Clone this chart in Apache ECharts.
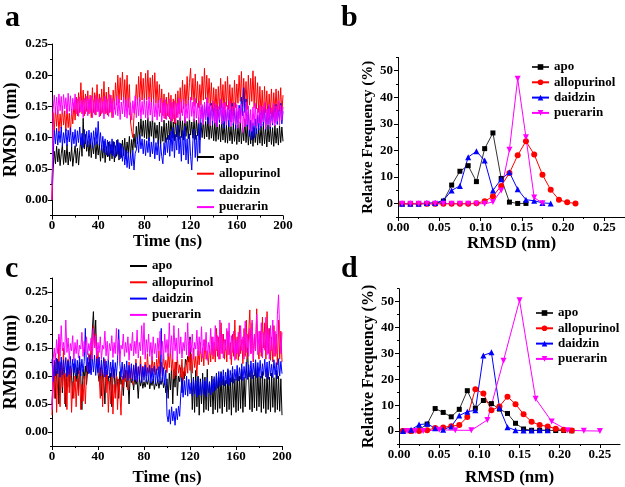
<!DOCTYPE html>
<html><head><meta charset="utf-8">
<script src="https://cdn.jsdelivr.net/npm/echarts@6/dist/echarts.min.js"></script>
<style>html,body{margin:0;padding:0;background:#fff}#c{width:625px;height:487px}</style>
</head><body><div id="c"></div><script>
// ---------- DATA ----------
const NAMES = ['apo', 'allopurinol', 'daidzin', 'puerarin'];
const T_STEP_NS = 1; // one stored frame per ns, t = 0..200

// Panel a: RMSD (nm) vs time
const A_APO = [0.000,
0.050,0.078,0.058,0.086,0.061,0.082,0.055,0.074,0.088,0.057,
0.080,0.060,0.089,0.056,0.077,0.062,0.085,0.054,0.072,0.087,
0.059,0.083,0.056,0.079,0.098,0.070,0.131,0.082,0.105,0.078,
0.095,0.070,0.098,0.068,0.092,0.074,0.100,0.066,0.094,0.072,
0.090,0.062,0.088,0.067,0.095,0.060,0.086,0.069,0.093,0.063,
0.089,0.066,0.094,0.061,0.087,0.070,0.097,0.064,0.091,0.068,
0.096,0.071,0.099,0.066,0.093,0.075,0.102,0.069,0.097,0.080,
0.106,0.084,0.118,0.090,0.125,0.098,0.130,0.102,0.127,0.100,
0.128,0.098,0.132,0.095,0.126,0.102,0.133,0.093,0.124,0.099,
0.120,0.090,0.125,0.085,0.118,0.094,0.128,0.092,0.123,0.097,
0.127,0.096,0.131,0.099,0.125,0.095,0.130,0.101,0.128,0.097,
0.132,0.100,0.127,0.096,0.133,0.102,0.126,0.098,0.131,0.104,
0.125,0.099,0.130,0.097,0.128,0.103,0.132,0.096,0.124,0.100,
0.129,0.098,0.126,0.101,0.131,0.097,0.127,0.099,0.122,0.095,
0.125,0.094,0.128,0.097,0.121,0.093,0.126,0.096,0.123,0.092,
0.120,0.091,0.124,0.095,0.118,0.090,0.122,0.094,0.119,0.089,
0.121,0.093,0.125,0.090,0.118,0.095,0.130,0.092,0.120,0.088,
0.117,0.090,0.121,0.086,0.116,0.092,0.120,0.088,0.115,0.091,
0.119,0.087,0.122,0.090,0.117,0.085,0.121,0.093,0.118,0.089,
0.116,0.086,0.120,0.091,0.115,0.088,0.119,0.092,0.117,0.094];
const A_ALLO = [0.000,
0.140,0.112,0.148,0.118,0.145,0.108,0.138,0.115,0.150,0.120,
0.143,0.110,0.147,0.116,0.139,0.105,0.146,0.122,0.155,0.128,
0.165,0.135,0.172,0.140,0.188,0.138,0.176,0.135,0.170,0.142,
0.175,0.138,0.168,0.132,0.180,0.140,0.172,0.136,0.185,0.142,
0.170,0.135,0.178,0.140,0.190,0.138,0.173,0.136,0.181,0.140,
0.168,0.132,0.176,0.145,0.188,0.152,0.200,0.155,0.196,0.160,
0.205,0.156,0.193,0.150,0.200,0.148,0.185,0.125,0.110,0.100,
0.135,0.150,0.185,0.152,0.198,0.158,0.205,0.160,0.195,0.155,
0.203,0.160,0.208,0.162,0.196,0.152,0.200,0.158,0.204,0.155,
0.190,0.148,0.185,0.140,0.178,0.135,0.170,0.130,0.165,0.135,
0.172,0.130,0.168,0.126,0.162,0.122,0.170,0.132,0.175,0.138,
0.180,0.140,0.192,0.146,0.185,0.150,0.198,0.152,0.188,0.211,
0.160,0.195,0.150,0.202,0.155,0.190,0.148,0.185,0.152,0.198,
0.160,0.211,0.162,0.200,0.155,0.195,0.150,0.188,0.142,0.180,
0.140,0.178,0.135,0.182,0.145,0.195,0.148,0.185,0.138,0.190,
0.150,0.198,0.145,0.185,0.140,0.180,0.135,0.192,0.148,0.186,
0.155,0.200,0.158,0.206,0.150,0.195,0.156,0.190,0.145,0.200,
0.152,0.195,0.158,0.207,0.148,0.198,0.146,0.188,0.140,0.182,
0.135,0.176,0.130,0.182,0.140,0.175,0.128,0.170,0.138,0.178,
0.132,0.172,0.140,0.178,0.135,0.175,0.142,0.180,0.138,0.168];
const A_DAID = [0.025,
0.070,0.112,0.090,0.115,0.088,0.110,0.092,0.117,0.086,0.108,
0.091,0.114,0.087,0.112,0.093,0.116,0.085,0.109,0.090,0.113,
0.086,0.111,0.092,0.117,0.088,0.107,0.084,0.113,0.090,0.110,
0.085,0.112,0.089,0.108,0.083,0.111,0.088,0.116,0.090,0.126,
0.088,0.108,0.080,0.102,0.076,0.098,0.072,0.096,0.070,0.094,
0.074,0.098,0.071,0.093,0.068,0.096,0.073,0.092,0.066,0.090,
0.062,0.085,0.056,0.080,0.052,0.077,0.050,0.074,0.055,0.080,
0.048,0.075,0.080,0.100,0.076,0.104,0.082,0.098,0.074,0.097,
0.071,0.095,0.076,0.100,0.069,0.093,0.074,0.098,0.066,0.092,
0.072,0.096,0.063,0.090,0.070,0.058,0.092,0.072,0.100,0.076,
0.104,0.070,0.110,0.078,0.116,0.068,0.105,0.080,0.120,0.074,
0.102,0.062,0.112,0.072,0.118,0.064,0.098,0.058,0.106,0.070,
0.048,0.095,0.114,0.068,0.104,0.062,0.122,0.075,0.138,0.150,
0.125,0.152,0.128,0.156,0.122,0.150,0.127,0.155,0.120,0.148,
0.126,0.152,0.118,0.146,0.124,0.160,0.121,0.149,0.115,0.144,
0.121,0.150,0.117,0.145,0.125,0.155,0.120,0.147,0.114,0.142,
0.123,0.152,0.130,0.165,0.135,0.180,0.140,0.162,0.118,0.145,
0.102,0.128,0.096,0.124,0.100,0.130,0.106,0.136,0.112,0.140,
0.116,0.144,0.119,0.148,0.112,0.140,0.122,0.150,0.114,0.143,
0.120,0.147,0.124,0.153,0.121,0.145,0.127,0.155,0.122,0.142];
const A_PUER = [0.000,
0.145,0.168,0.140,0.165,0.137,0.170,0.143,0.166,0.139,0.169,
0.146,0.164,0.138,0.171,0.142,0.167,0.136,0.163,0.144,0.170,
0.138,0.162,0.134,0.165,0.141,0.160,0.132,0.163,0.138,0.166,
0.135,0.162,0.140,0.167,0.132,0.160,0.137,0.168,0.141,0.162,
0.133,0.164,0.138,0.158,0.130,0.166,0.139,0.161,0.134,0.169,
0.141,0.163,0.132,0.159,0.137,0.167,0.135,0.162,0.129,0.157,
0.138,0.165,0.133,0.160,0.131,0.164,0.136,0.156,0.128,0.159,
0.139,0.167,0.132,0.161,0.135,0.165,0.130,0.158,0.137,0.163,
0.132,0.159,0.129,0.165,0.136,0.157,0.127,0.162,0.133,0.155,
0.128,0.160,0.134,0.163,0.125,0.156,0.131,0.161,0.129,0.154,
0.133,0.162,0.126,0.157,0.130,0.159,0.124,0.155,0.132,0.163,
0.127,0.157,0.135,0.162,0.123,0.154,0.131,0.160,0.128,0.165,
0.134,0.157,0.126,0.163,0.131,0.155,0.123,0.159,0.130,0.153,
0.121,0.157,0.128,0.164,0.133,0.155,0.119,0.152,0.127,0.159,
0.123,0.154,0.117,0.150,0.129,0.162,0.122,0.155,0.126,0.157,
0.120,0.152,0.128,0.159,0.118,0.150,0.124,0.156,0.121,0.153,
0.115,0.147,0.123,0.154,0.108,0.142,0.117,0.157,0.121,0.151,
0.113,0.145,0.110,0.149,0.119,0.155,0.115,0.147,0.123,0.152,
0.118,0.150,0.125,0.157,0.114,0.146,0.121,0.153,0.117,0.148,
0.123,0.155,0.119,0.151,0.126,0.159,0.120,0.152,0.128,0.149];

// Panel c: RMSD (nm) vs time
const C_APO = [0.050,
0.095,0.120,0.060,0.110,0.130,0.050,0.105,0.125,0.070,0.115,
0.095,0.045,0.110,0.128,0.080,0.118,0.100,0.060,0.122,0.105,
0.090,0.115,0.070,0.125,0.100,0.040,0.112,0.095,0.118,0.085,
0.110,0.125,0.105,0.135,0.180,0.215,0.160,0.200,0.120,0.105,
0.090,0.115,0.065,0.108,0.095,0.050,0.110,0.088,0.100,0.075,
0.105,0.045,0.098,0.112,0.070,0.102,0.090,0.060,0.108,0.085,
0.095,0.065,0.100,0.110,0.080,0.092,0.050,0.102,0.088,0.097,
0.075,0.100,0.085,0.092,0.060,0.098,0.082,0.095,0.078,0.090,
0.080,0.093,0.085,0.098,0.077,0.090,0.083,0.095,0.076,0.088,
0.082,0.094,0.078,0.091,0.085,0.098,0.079,0.090,0.070,0.095,
0.060,0.105,0.075,0.118,0.050,0.110,0.080,0.125,0.065,0.100,
0.090,0.115,0.070,0.108,0.095,0.130,0.120,0.135,0.125,0.170,
0.105,0.040,0.098,0.035,0.110,0.045,0.100,0.030,0.095,0.050,
0.105,0.035,0.098,0.040,0.112,0.038,0.090,0.045,0.100,0.032,
0.095,0.040,0.105,0.035,0.098,0.042,0.108,0.033,0.100,0.045,
0.092,0.036,0.110,0.040,0.097,0.030,0.105,0.044,0.095,0.035,
0.108,0.038,0.100,0.042,0.112,0.035,0.098,0.045,0.105,0.150,
0.097,0.040,0.110,0.036,0.102,0.043,0.125,0.038,0.115,0.045,
0.100,0.035,0.108,0.042,0.095,0.033,0.112,0.040,0.098,0.036,
0.105,0.044,0.097,0.035,0.110,0.040,0.100,0.037,0.095,0.030];
const C_ALLO = [0.030,
0.110,0.060,0.140,0.035,0.095,0.170,0.045,0.120,0.080,0.150,
0.050,0.105,0.040,0.130,0.070,0.115,0.035,0.090,0.060,0.100,
0.045,0.095,0.065,0.110,0.040,0.085,0.055,0.100,0.050,0.105,
0.120,0.140,0.110,0.160,0.130,0.190,0.150,0.175,0.120,0.145,
0.100,0.060,0.120,0.045,0.095,0.130,0.070,0.110,0.035,0.090,
0.050,0.115,0.032,0.085,0.060,0.105,0.040,0.095,0.070,0.030,
0.100,0.080,0.120,0.090,0.110,0.075,0.125,0.095,0.115,0.085,
0.120,0.095,0.130,0.090,0.115,0.100,0.135,0.092,0.118,0.098,
0.125,0.100,0.140,0.105,0.120,0.098,0.135,0.108,0.125,0.102,
0.130,0.110,0.145,0.105,0.125,0.100,0.138,0.112,0.128,0.106,
0.140,0.115,0.150,0.110,0.130,0.095,0.125,0.100,0.135,0.105,
0.120,0.098,0.130,0.092,0.115,0.100,0.128,0.105,0.160,0.110,
0.140,0.105,0.150,0.115,0.135,0.100,0.145,0.120,0.160,0.125,
0.150,0.118,0.165,0.130,0.145,0.120,0.155,0.125,0.170,0.130,
0.160,0.125,0.185,0.135,0.170,0.130,0.195,0.140,0.175,0.130,
0.165,0.125,0.180,0.138,0.160,0.120,0.175,0.135,0.200,0.130,
0.170,0.128,0.190,0.140,0.165,0.122,0.185,0.135,0.200,0.130,
0.175,0.218,0.140,0.195,0.125,0.170,0.145,0.220,0.150,0.130,
0.180,0.135,0.205,0.150,0.195,0.130,0.215,0.140,0.185,0.128,
0.170,0.125,0.190,0.135,0.175,0.120,0.200,0.130,0.180,0.125];
const C_DAID = [0.130,
0.090,0.128,0.100,0.132,0.104,0.126,0.098,0.134,0.102,0.129,
0.105,0.133,0.099,0.127,0.103,0.135,0.100,0.130,0.106,0.131,
0.101,0.128,0.104,0.136,0.100,0.130,0.107,0.126,0.185,0.108,
0.133,0.104,0.138,0.102,0.134,0.107,0.137,0.101,0.131,0.106,
0.134,0.100,0.129,0.103,0.133,0.098,0.127,0.102,0.131,0.097,
0.125,0.099,0.129,0.096,0.124,0.101,0.128,0.183,0.122,0.098,
0.125,0.094,0.121,0.097,0.127,0.092,0.119,0.096,0.122,0.091,
0.119,0.093,0.123,0.090,0.117,0.094,0.121,0.088,0.116,0.092,
0.120,0.089,0.115,0.093,0.119,0.087,0.114,0.091,0.118,0.086,
0.113,0.090,0.117,0.085,0.185,0.089,0.115,0.084,0.111,0.030,
0.018,0.040,0.014,0.045,0.020,0.037,0.012,0.042,0.022,0.046,
0.028,0.068,0.096,0.062,0.092,0.066,0.100,0.064,0.094,0.068,
0.088,0.064,0.096,0.068,0.092,0.062,0.098,0.066,0.090,0.065,
0.095,0.067,0.091,0.063,0.097,0.070,0.089,0.066,0.094,0.071,
0.099,0.074,0.103,0.078,0.108,0.081,0.105,0.084,0.111,0.082,
0.107,0.086,0.113,0.083,0.110,0.089,0.117,0.087,0.112,0.092,
0.119,0.091,0.115,0.094,0.122,0.092,0.117,0.096,0.125,0.094,
0.120,0.098,0.127,0.095,0.123,0.100,0.129,0.097,0.124,0.099,
0.128,0.096,0.122,0.101,0.130,0.098,0.125,0.094,0.127,0.100,
0.121,0.097,0.129,0.102,0.124,0.095,0.131,0.100,0.126,0.104];
const C_PUER = [0.040,
0.130,0.150,0.125,0.165,0.140,0.175,0.135,0.190,0.145,0.160,
0.138,0.200,0.142,0.168,0.130,0.158,0.145,0.172,0.128,0.160,
0.140,0.165,0.132,0.155,0.148,0.178,0.135,0.162,0.142,0.170,
0.138,0.158,0.145,0.168,0.130,0.185,0.150,0.172,0.135,0.160,
0.142,0.170,0.130,0.155,0.148,0.180,0.136,0.162,0.128,0.158,
0.145,0.172,0.133,0.160,0.140,0.185,0.138,0.165,0.125,0.155,
0.148,0.175,0.135,0.160,0.142,0.170,0.128,0.158,0.145,0.178,
0.136,0.162,0.140,0.182,0.132,0.160,0.145,0.190,0.138,0.195,
0.130,0.165,0.142,0.175,0.135,0.160,0.128,0.170,0.140,0.158,
0.132,0.168,0.145,0.180,0.138,0.162,0.130,0.175,0.142,0.165,
0.135,0.195,0.140,0.172,0.130,0.190,0.145,0.168,0.128,0.185,
0.140,0.170,0.132,0.160,0.145,0.178,0.138,0.195,0.135,0.165,
0.142,0.175,0.130,0.160,0.148,0.182,0.136,0.170,0.140,0.188,
0.132,0.165,0.145,0.178,0.128,0.160,0.142,0.185,0.138,0.170,
0.135,0.190,0.145,0.172,0.130,0.200,0.140,0.175,0.132,0.165,
0.145,0.185,0.138,0.195,0.130,0.172,0.142,0.180,0.128,0.165,
0.140,0.178,0.135,0.190,0.145,0.170,0.130,0.198,0.142,0.175,
0.135,0.185,0.140,0.200,0.130,0.175,0.145,0.210,0.138,0.180,
0.142,0.195,0.132,0.178,0.146,0.205,0.138,0.185,0.130,0.190,
0.145,0.200,0.135,0.180,0.140,0.210,0.245,0.175,0.140,0.178];

// Panels b, d: relative frequency (%) per RMSD bin (nm)
const BINS = [0.005,0.015,0.025,0.035,0.045,0.055,0.065,0.075,0.085,0.095,0.105,
              0.115,0.125,0.135,0.145,0.155,0.165,0.175,0.185,0.195,0.205,0.215];
const B_APO  = [0,0,0,0,0,1.0,7.0,12.2,14.3,8.3,20.7,26.6,9.5,0.6,0.1,0.1];
const B_ALLO = [0,0,0,0,0,0,0,0,0,0.2,0.9,2.8,6.7,11.5,18.2,23.5,18.5,10.9,5.2,1.5,0.5,0.1];
const B_DAID = [0,0,0,0.3,0.3,1.2,5.0,6.7,17.5,19.7,16.2,5.0,9.2,11.8,5.4,1.5,1.1,0.3,0.1];
const B_PUER = [0,0,0,0,0,0,0,0,0,0,0,0.6,5.0,20.3,47.0,25.0,2.3,0.2];
const D_APO  = [0,0,0.5,2.7,8.7,7.2,5.5,8.4,15.6,8.8,11.8,10.6,8.5,6.8,3.0,0.8,0.3,0.3,0.3,0.2,0.2,0.1];
const D_ALLO = [0,0,0,0.3,1.2,1.4,1.9,2.3,5.4,16.2,14.5,8.0,9.5,13.3,10.4,6.5,3.6,2.3,1.8,0.9,0.5,0.2];
const D_DAID = [0,0.5,2.5,2.8,1.1,0.5,1.8,6.0,7.5,8.0,29.2,30.4,9.0,1.5,0.3,0.2,0.2,0.3,0.3];
const D_PUER_X = [0.01,0.02,0.03,0.05,0.07,0.09,0.11,0.13,0.15,0.17,0.19,0.21,0.23,0.25];
const D_PUER   = [0,0,0,0.5,0.3,0.3,4.3,27.2,50.5,12.5,3.7,0.3,0.1,0];

// Tick values
const T_TICKS = [0, 40, 80, 120, 160, 200];
const T_MINOR = [20, 60, 100, 140, 180];
const RMSD_TICKS = [0, 0.05, 0.10, 0.15, 0.20, 0.25];
const RMSD_MINOR_A = [-0.025, 0.025, 0.075, 0.125, 0.175, 0.225];
const RMSD_MINOR_C = [-0.025, 0.025, 0.075, 0.125, 0.175, 0.225, 0.275];
const RMSD_MINOR_X = [0.025, 0.075, 0.125, 0.175, 0.225];
const FREQ_TICKS = [0, 10, 20, 30, 40, 50];
const FREQ_MINOR = [-5, 5, 15, 25, 35, 45, 55];

// ---------- CHART ----------
const F = '"Liberation Serif","Times New Roman",serif';
const COLORS = ['#000000', '#ff0000', '#0000ff', '#ff00ff'];
const SYMBOLS = ['rect', 'circle', 'triangle', 'triangle'];
const ROT = [0, 0, 0, 180];

const grids = [
  {left: 52, top: 44, width: 231, height: 171.6},
  {left: 398, top: 57.4, width: 237.6, height: 159.6},
  {left: 52, top: 278, width: 230, height: 169.2},
  {left: 399, top: 288.7, width: 221, height: 159.6}
];

function mainAxis(gi, o) {
  return {
    gridIndex: gi, type: 'value', min: o.min, max: o.max, position: o.position,
    axisLine: {show: true, onZero: false, lineStyle: {color: '#000', width: 1}},
    axisTick: {show: true, inside: false, length: 4, lineStyle: {color: '#000', width: 1}, customValues: o.ticks},
    axisLabel: {customValues: o.ticks, margin: o.margin, formatter: o.fmt,
      color: '#000', fontFamily: F, fontWeight: 'bold', fontSize: 13},
    splitLine: {show: false},
    name: o.name, nameLocation: 'middle', nameGap: o.nameGap, nameRotate: o.nameRotate,
    nameTextStyle: {color: '#000', fontFamily: F, fontWeight: 'bold', fontSize: o.nameSize}
  };
}
function minorAxis(gi, o) {
  return {
    gridIndex: gi, type: 'value', min: o.min, max: o.max, position: o.position,
    axisLine: {show: false, onZero: false}, axisLabel: {show: false}, splitLine: {show: false},
    axisTick: {show: true, inside: false, length: 2, lineStyle: {color: '#000', width: 1}, customValues: o.minor}
  };
}
const f2 = v => v.toFixed(2);
const f0 = v => String(Math.round(v));

const xAxis = [], yAxis = [];
// a
xAxis.push(mainAxis(0, {min: 0, max: 200, ticks: T_TICKS, position: 'bottom', margin: 4, fmt: f0, name: 'Time (ns)', nameGap: 16, nameSize: 17}));
xAxis.push(minorAxis(0, {min: 0, max: 200, minor: T_MINOR, position: 'bottom'}));
yAxis.push(mainAxis(0, {min: -0.025, max: 0.25, ticks: RMSD_TICKS, position: 'left', margin: 4, fmt: f2, name: 'RMSD (nm)', nameGap: 32, nameRotate: 90, nameSize: 18}));
yAxis.push(minorAxis(0, {min: -0.025, max: 0.25, minor: RMSD_MINOR_A, position: 'left'}));
// b
xAxis.push(mainAxis(1, {min: 0, max: 0.275, ticks: RMSD_TICKS, position: 'bottom', margin: 4, fmt: f2, name: 'RMSD (nm)', nameGap: 16, nameSize: 17}));
xAxis.push(minorAxis(1, {min: 0, max: 0.275, minor: RMSD_MINOR_X, position: 'bottom'}));
yAxis.push(mainAxis(1, {min: -5, max: 55, ticks: FREQ_TICKS, position: 'left', margin: 5, fmt: f0, name: 'Relative Frequency (%)', nameGap: 20, nameRotate: 90, nameSize: 15}));
yAxis.push(minorAxis(1, {min: -5, max: 55, minor: FREQ_MINOR, position: 'left'}));
// c
xAxis.push(mainAxis(2, {min: 0, max: 200, ticks: T_TICKS, position: 'bottom', margin: 4, fmt: f0, name: 'Time (ns)', nameGap: 23, nameSize: 17}));
xAxis.push(minorAxis(2, {min: 0, max: 200, minor: T_MINOR, position: 'bottom'}));
yAxis.push(mainAxis(2, {min: -0.025, max: 0.275, ticks: RMSD_TICKS, position: 'left', margin: 4, fmt: f2, name: 'RMSD (nm)', nameGap: 32, nameRotate: 90, nameSize: 18}));
yAxis.push(minorAxis(2, {min: -0.025, max: 0.275, minor: RMSD_MINOR_C, position: 'left'}));
// d
xAxis.push(mainAxis(3, {min: 0, max: 0.275, ticks: RMSD_TICKS, position: 'bottom', margin: 4, fmt: f2, name: 'RMSD (nm)', nameGap: 25, nameSize: 17}));
xAxis.push(minorAxis(3, {min: 0, max: 0.275, minor: RMSD_MINOR_X, position: 'bottom'}));
yAxis.push(mainAxis(3, {min: -5, max: 55, ticks: FREQ_TICKS, position: 'left', margin: 5, fmt: f0, name: 'Relative Frequency (%)', nameGap: 19, nameRotate: 90, nameSize: 16}));
yAxis.push(minorAxis(3, {min: -5, max: 55, minor: FREQ_MINOR, position: 'left'}));

const series = [];
function addTS(panel, axisIdx, arrs) {
  arrs.forEach((vals, k) => {
    series.push({
      type: 'line', name: panel + '|' + NAMES[k], xAxisIndex: axisIdx, yAxisIndex: axisIdx,
      data: vals.map((v, i) => [i * T_STEP_NS, v]),
      symbol: 'none', showSymbol: false, clip: true,
      lineStyle: {color: COLORS[k], width: 1}, itemStyle: {color: COLORS[k]},
      emphasis: {disabled: true}, silent: true
    });
  });
}
function addHist(panel, axisIdx, arrs, xs) {
  arrs.forEach((vals, k) => {
    const xv = xs[k];
    series.push({
      type: 'line', name: panel + '|' + NAMES[k], xAxisIndex: axisIdx, yAxisIndex: axisIdx,
      data: vals.map((v, i) => [xv[i], v]),
      symbol: SYMBOLS[k], symbolRotate: ROT[k], symbolSize: k === 0 ? 5 : 6, showAllSymbol: true, clip: true,
      lineStyle: {color: k === 0 ? '#333' : COLORS[k], width: 1}, itemStyle: {color: COLORS[k]},
      emphasis: {disabled: true}, silent: true
    });
  });
}
addTS('a', 0, [A_APO, A_ALLO, A_DAID, A_PUER]);
addHist('b', 2, [B_APO, B_ALLO, B_DAID, B_PUER], [BINS, BINS, BINS, BINS]);
addTS('c', 4, [C_APO, C_ALLO, C_DAID, C_PUER]);
addHist('d', 6, [D_APO, D_ALLO, D_DAID, D_PUER], [BINS, BINS, BINS, D_PUER_X]);

function legend(p, left, top, gap, ih, icon) {
  const l = {
    orient: 'vertical', left: left, top: top, itemGap: gap, itemWidth: 17, itemHeight: ih,
    padding: 0, selectedMode: false,
    data: NAMES.map(n => p + '|' + n), formatter: n => n.split('|')[1],
    textStyle: {color: '#000', fontFamily: F, fontWeight: 'bold', fontSize: 13}
  };
  if (icon) l.icon = icon;
  return l;
}

const LF = 'bold 30px "Liberation Serif"';
const option = {
  animation: false, backgroundColor: '#fff',
  grid: grids, xAxis: xAxis, yAxis: yAxis, series: series,
  legend: [legend('a', 197, 150.5, 3.7, 2, 'rect'), legend('b', 531, 60.5, 2.3, 7),
           legend('c', 130, 259.5, 3.3, 2, 'rect'), legend('d', 535, 306.5, 2.3, 7)],
  graphic: [
    {type: 'text', left: 5, top: 3, style: {text: 'a', font: LF, fill: '#000'}},
    {type: 'text', left: 341, top: 3, style: {text: 'b', font: LF, fill: '#000'}},
    {type: 'text', left: 5, top: 254, style: {text: 'c', font: LF, fill: '#000'}},
    {type: 'text', left: 341, top: 254, style: {text: 'd', font: LF, fill: '#000'}}
  ]
};
const chart = echarts.init(document.getElementById('c'), null, {renderer: 'canvas', width: 625, height: 487});
chart.setOption(option);
</script></body></html>
